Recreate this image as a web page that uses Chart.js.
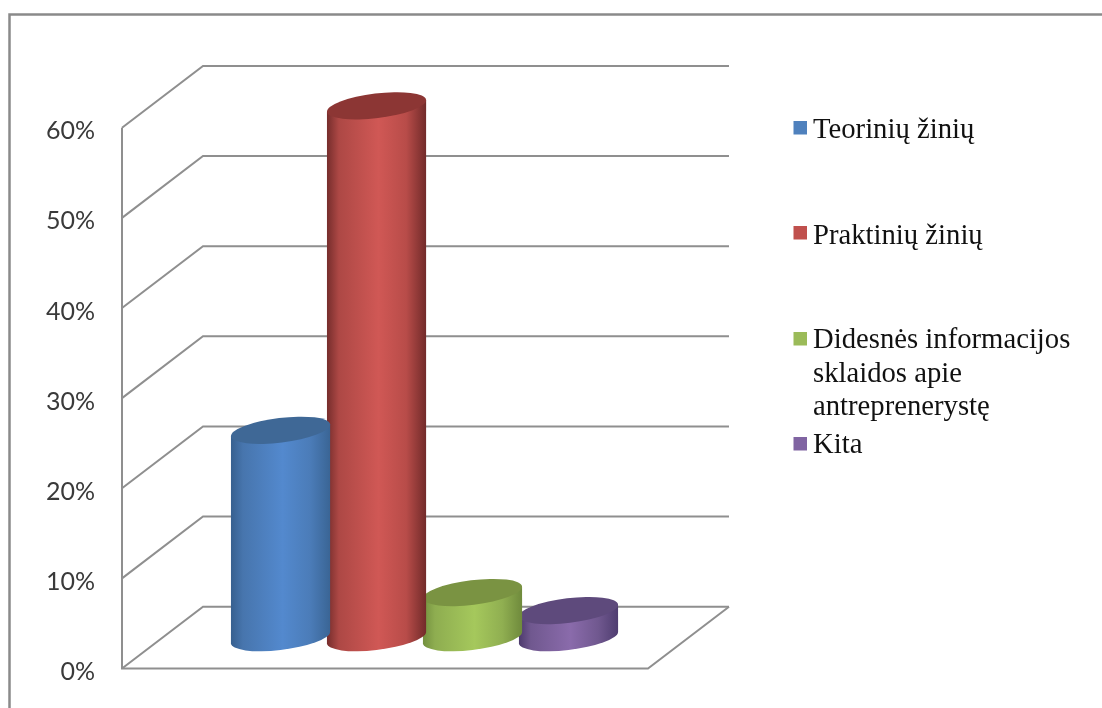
<!DOCTYPE html>
<html lang="lt">
<head>
<meta charset="utf-8">
<title>Cylinder chart</title>
<script src="https://cdn.jsdelivr.net/npm/chart.js@4"></script>
<style>
html,body{margin:0;padding:0;background:#fff;overflow:hidden}
#wrap{position:relative;width:1102px;height:708px}
canvas{display:block;filter:blur(.4px)}
</style>
</head>
<body>
<div id="wrap"><canvas id="c" width="1102" height="708"></canvas></div>
<script>
const categories = [''];
const seriesNames = ['Teorinių žinių', 'Praktinių žinių', 'Didesnės informacijos sklaidos apie antreprenerystę', 'Kita'];
const seriesValues = [23, 59, 5, 3];
const seriesColors = ['#4f81bd', '#c0504d', '#9bbb59', '#8064a2'];
const yTicks = [0, 10, 20, 30, 40, 50, 60];
const legendLines = [['Teorinių žinių'], ['Praktinių žinių'], ['Didesnės informacijos', 'sklaidos apie', 'antreprenerystę'], ['Kita']];

const DEPTH_X = 81, DEPTH_Y = 61.8, BAR_SHIFT = 0.488, TILT = -7 * Math.PI / 180, MINOR = 12.3;
const GRID = '#8f8f8f';
const shades = [
  {cap:'#3f6896', stops:['#37608f','#4775ad','#5389ce','#4b7cb8','#3a6595']},
  {cap:'#8c3634', stops:['#762d2c','#ad4845','#d05855','#b84c49','#722b2a']},
  {cap:'#7a9342', stops:['#73903f','#8ead50','#a5c85c','#90af51','#6f8a3c']},
  {cap:'#5e4a7c', stops:['#4d3a6d','#70588f','#8a6bab','#70588f','#4f3d70']}
];
const legendY = [[138],[244],[348,382,415],[453]];
const legendBox = [121,226,332,437];

const cylinders = {
  id:'cylinders',
  beforeDraw(chart){
    const c = chart.ctx;
    c.save();
    c.fillStyle='#fff'; c.fillRect(0,0,chart.width,chart.height);
    c.strokeStyle='#8a8a8a'; c.lineWidth=2.5;
    c.beginPath(); c.moveTo(1102,14.5); c.lineTo(9.5,14.5); c.lineTo(9.5,708); c.stroke();
    c.restore();
  },
  beforeDatasetsDraw(chart){
    const c = chart.ctx, y = chart.scales.y, a = chart.chartArea;
    c.save();
    c.strokeStyle = GRID; c.lineWidth = 2; c.lineJoin='miter';
    y.ticks.forEach(t=>{
      const p = y.getPixelForValue(t.value);
      c.beginPath(); c.moveTo(a.left,p); c.lineTo(a.left+DEPTH_X,p-DEPTH_Y); c.lineTo(a.right+DEPTH_X,p-DEPTH_Y); c.stroke();
    });
    const p0 = y.getPixelForValue(0);
    c.beginPath();
    c.moveTo(a.left,y.getPixelForValue(60)); c.lineTo(a.left,p0); c.lineTo(a.right,p0); c.lineTo(a.right+DEPTH_X,p0-DEPTH_Y);
    c.stroke();
    c.restore();
  },
  beforeDatasetDraw(chart,args){
    const el = chart.getDatasetMeta(args.index).data[0];
    const c = chart.ctx, s = shades[args.index];
    const cx = el.x + DEPTH_X*BAR_SHIFT, a = el.width/2;
    const ty = el.y - DEPTH_Y/2, by = el.base - DEPTH_Y/2;
    const b = MINOR, cos = Math.cos(TILT), sin = Math.sin(TILT);
    const t0 = Math.atan2(-b*sin, a*cos);
    const ex = a*Math.cos(t0)*cos - b*Math.sin(t0)*sin;
    const ey = a*Math.cos(t0)*sin + b*Math.sin(t0)*cos;
    const g = c.createLinearGradient(cx-ex,0,cx+ex,0);
    [0,.12,.52,.8,1].forEach((o,i)=>g.addColorStop(o,s.stops[i]));
    c.save();
    c.fillStyle = g;
    c.beginPath();
    c.moveTo(cx+ex,ty+ey);
    c.lineTo(cx+ex,by+ey);
    c.ellipse(cx,by,a,b,TILT,t0,t0+Math.PI,false);
    c.lineTo(cx-ex,ty-ey);
    c.closePath();
    c.fill();
    c.fillStyle = s.cap;
    c.beginPath();
    c.ellipse(cx,ty,a,b,TILT,0,Math.PI*2);
    c.fill();
    c.restore();
    return false;
  },
  afterDraw(chart){
    const c = chart.ctx;
    c.save();
    legendLines.forEach((lines,i)=>{
      c.fillStyle = seriesColors[i];
      c.fillRect(793.5,legendBox[i],13.5,13.5);
      c.fillStyle = '#111';
      c.font = '28.7px "Liberation Serif"';
      c.textAlign='left'; c.textBaseline='alphabetic';
      lines.forEach((l,j)=>c.fillText(l,813,legendY[i][j]));
    });
    c.restore();
  }
};

new Chart(document.getElementById('c'),{
  type:'bar',
  data:{
    labels:categories,
    datasets:seriesNames.map((n,i)=>({label:n,data:[seriesValues[i]],backgroundColor:seriesColors[i]}))
  },
  options:{
    responsive:false,
    animation:false,
    categoryPercentage:0.73,
    barPercentage:1.04,
    layout:{autoPadding:false,padding:{left:0,top:127.7,right:454,bottom:39.5}},
    plugins:{legend:{display:false},tooltip:{enabled:false},title:{display:false}},
    scales:{
      x:{display:false,grid:{display:false}},
      y:{
        min:0,max:60,
        afterBuildTicks(s){s.ticks=yTicks.map(v=>({value:v}));},
        afterFit(s){s.width=122;s.paddingTop=0;s.paddingBottom=0;},
        border:{display:false},
        grid:{display:false,drawTicks:false},
        ticks:{padding:27,labelOffset:3.5,color:'#3a3a3a',font:{family:'Lato',size:25},callback:v=>v+'%'}
      }
    }
  },
  plugins:[cylinders]
});
</script>
</body>
</html>
